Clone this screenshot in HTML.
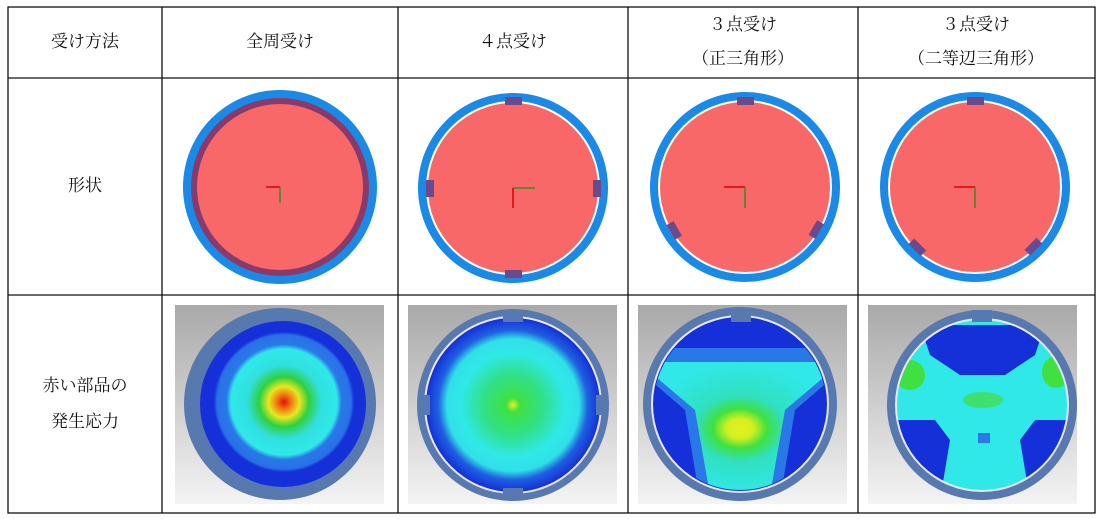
<!DOCTYPE html>
<html><head><meta charset="utf-8"><style>
html,body{margin:0;padding:0;background:#fff}
svg{display:block}
text{font-family:"Liberation Serif","Noto Serif CJK SC","Noto Sans CJK JP",serif;font-size:17px;fill:#111;text-anchor:middle;dominant-baseline:middle}
</style></head><body>
<svg width="1105" height="519" viewBox="0 0 1105 519" xmlns="http://www.w3.org/2000/svg">
<defs>
<linearGradient id="bg" x1="0" y1="0" x2="0" y2="1"><stop offset="0" stop-color="#a9a9a9"/><stop offset="1" stop-color="#f4f4f4"/></linearGradient>
<radialGradient id="s1" cx="0.5" cy="0.5" r="0.5">
<stop offset="0" stop-color="#e01010"/><stop offset="0.1" stop-color="#f08010"/><stop offset="0.2" stop-color="#e8e820"/><stop offset="0.32" stop-color="#30d040"/><stop offset="0.48" stop-color="#30e0e0"/><stop offset="0.68" stop-color="#30e8e8"/><stop offset="0.74" stop-color="#2a78e8"/><stop offset="0.86" stop-color="#2a70e8"/><stop offset="0.9" stop-color="#1530d8"/><stop offset="1" stop-color="#1530d8"/></radialGradient>
<radialGradient id="s2" cx="0.5" cy="0.5" r="0.5">
<stop offset="0" stop-color="#e8f020"/><stop offset="0.08" stop-color="#40e040"/><stop offset="0.35" stop-color="#30e08a"/><stop offset="0.6" stop-color="#30e8e8"/><stop offset="0.76" stop-color="#30e0e8"/><stop offset="0.86" stop-color="#2060e0"/><stop offset="1" stop-color="#1530d8"/></radialGradient>
<radialGradient id="s3" cx="0.5" cy="0.5" r="0.5">
<stop offset="0" stop-color="#e8f020"/><stop offset="0.15" stop-color="#d0f020"/><stop offset="0.3" stop-color="#40e040"/><stop offset="0.5" stop-color="#30e0c0"/><stop offset="1" stop-color="#30e8e8"/></radialGradient>
<clipPath id="c3"><circle cx="740" cy="404" r="86"/></clipPath>
<clipPath id="c4"><circle cx="982" cy="405" r="85"/></clipPath>
</defs>

<g stroke="#111" stroke-width="1.3" fill="none">
<rect x="8" y="7" width="1087" height="506"/>
<line x1="8" y1="78" x2="1095" y2="78"/>
<line x1="8" y1="295" x2="1095" y2="295"/>
<line x1="162" y1="7" x2="162" y2="513"/>
<line x1="398" y1="7" x2="398" y2="513"/>
<line x1="628" y1="7" x2="628" y2="513"/>
<line x1="858" y1="7" x2="858" y2="513"/>
</g>

<text x="85" y="43">受け方法</text>
<text x="280" y="43">全周受け</text>
<text x="513" y="43">４点受け</text>
<text x="743" y="26">３点受け</text>
<text x="743" y="60">（正三角形）</text>
<text x="976" y="26">３点受け</text>
<text x="976" y="60">（二等辺三角形）</text>
<text x="85" y="187">形状</text>
<text x="85" y="387">赤い部品の</text>
<text x="85" y="423">発生応力</text>

<g>
<circle cx="280" cy="187" r="97" fill="#1a8ae6"/>
<circle cx="280" cy="187" r="89" fill="#8a3a6a"/>
<circle cx="280" cy="187" r="83" fill="#f86868"/>
<line x1="280" y1="187" x2="266" y2="187" stroke="#d00" stroke-width="1.5"/>
<line x1="280" y1="187" x2="280" y2="203" stroke="#3a8a20" stroke-width="1.5"/>
</g>
<g>
<circle cx="513" cy="188" r="95" fill="#1a8ae6"/>
<circle cx="513" cy="188" r="87" fill="#fff"/>
<circle cx="513" cy="188" r="85" fill="#f86868"/>
<rect x="505" y="97" width="17" height="8" fill="#6a4a8a"/>
<rect x="505" y="270" width="17" height="8" fill="#6a4a8a"/>
<rect x="426" y="180" width="8" height="17" fill="#6a4a8a"/>
<rect x="593" y="180" width="8" height="17" fill="#6a4a8a"/>
<line x1="513" y1="188" x2="535" y2="188" stroke="#3a8a20" stroke-width="1.5"/>
<line x1="513" y1="188" x2="513" y2="208" stroke="#d00" stroke-width="1.5"/>
</g>
<g>
<circle cx="745" cy="187" r="95" fill="#1a8ae6"/>
<circle cx="745" cy="187" r="87" fill="#fff"/>
<circle cx="745" cy="187" r="85" fill="#f86868"/>
<rect x="737" y="97" width="17" height="8" fill="#6a4a8a"/>
<rect x="666" y="226" width="17" height="8" fill="#6a4a8a" transform="rotate(60 674 230)"/>
<rect x="808" y="226" width="17" height="8" fill="#6a4a8a" transform="rotate(-60 816 230)"/>
<line x1="745" y1="187" x2="724" y2="187" stroke="#d00" stroke-width="1.5"/>
<line x1="745" y1="187" x2="745" y2="208" stroke="#3a8a20" stroke-width="1.5"/>
</g>
<g>
<circle cx="975" cy="187" r="95" fill="#1a8ae6"/>
<circle cx="975" cy="187" r="87" fill="#fff"/>
<circle cx="975" cy="187" r="85" fill="#f86868"/>
<rect x="967" y="97" width="17" height="8" fill="#6a4a8a"/>
<rect x="909" y="243" width="17" height="8" fill="#6a4a8a" transform="rotate(45 917 247)"/>
<rect x="1025" y="243" width="17" height="8" fill="#6a4a8a" transform="rotate(-45 1033 247)"/>
<line x1="975" y1="187" x2="954" y2="187" stroke="#d00" stroke-width="1.5"/>
<line x1="975" y1="187" x2="975" y2="208" stroke="#3a8a20" stroke-width="1.5"/>
</g>

<g>
<rect x="175" y="305" width="209" height="199" fill="url(#bg)"/>
<circle cx="280" cy="404" r="96" fill="#5878b0"/>
<circle cx="283" cy="404" r="83" fill="#1530d8"/>
<circle cx="284" cy="402" r="78" fill="url(#s1)"/>
</g>
<g>
<rect x="408" y="305" width="209" height="199" fill="url(#bg)"/>
<circle cx="513" cy="405" r="96" fill="#5878b0"/>
<circle cx="513" cy="405" r="89" fill="#e8e8f0"/>
<circle cx="513" cy="405" r="87" fill="url(#s2)"/>
<rect x="503" y="310" width="20" height="12" fill="#5878b0"/>
<rect x="503" y="488" width="20" height="12" fill="#5878b0"/>
<rect x="418" y="395" width="12" height="20" fill="#5878b0"/>
<rect x="596" y="395" width="12" height="20" fill="#5878b0"/>
</g>
<g>
<rect x="638" y="305" width="209" height="199" fill="url(#bg)"/>
<circle cx="740" cy="404" r="97" fill="#5878b0"/>
<circle cx="740" cy="404" r="89" fill="#e8e8f0"/>
<circle cx="740" cy="404" r="87" fill="#1530d8"/>
<g clip-path="url(#c3)">
<path d="M650,348 L830,348 L830,380 L795,410 L780,500 L700,500 L685,410 L650,380 Z" fill="#2a78e8"/>
<path d="M650,362 L830,362 L830,372 L785,410 L770,495 L710,495 L695,410 L650,372 Z" fill="url(#s3)"/>
</g>
<rect x="731" y="310" width="20" height="12" fill="#5878b0"/>
</g>
<g>
<rect x="868" y="305" width="209" height="199" fill="url(#bg)"/>
<circle cx="982" cy="405" r="95" fill="#5878b0"/>
<circle cx="982" cy="405" r="87" fill="#e8e8f0"/>
<circle cx="982" cy="405" r="85" fill="#30e8e8"/>
<g clip-path="url(#c4)">
<path d="M920,325 L1045,325 L1035,355 L1005,375 L960,375 L930,355 Z" fill="#1530d8"/>
<path d="M890,420 L935,420 L950,440 L940,500 L890,500 Z" fill="#1530d8"/>
<path d="M1075,420 L1035,420 L1020,440 L1030,500 L1075,500 Z" fill="#1530d8"/>
<ellipse cx="910" cy="375" rx="15" ry="15" fill="#40e040"/>
<ellipse cx="1056" cy="372" rx="14" ry="16" fill="#40e040"/>
<ellipse cx="983" cy="400" rx="20" ry="8" fill="#40e070"/>
<rect x="978" y="433" width="12" height="10" fill="#2a78e8"/>
</g>
<rect x="972" y="310" width="20" height="12" fill="#5878b0"/>
</g>
</svg>
</body></html>
